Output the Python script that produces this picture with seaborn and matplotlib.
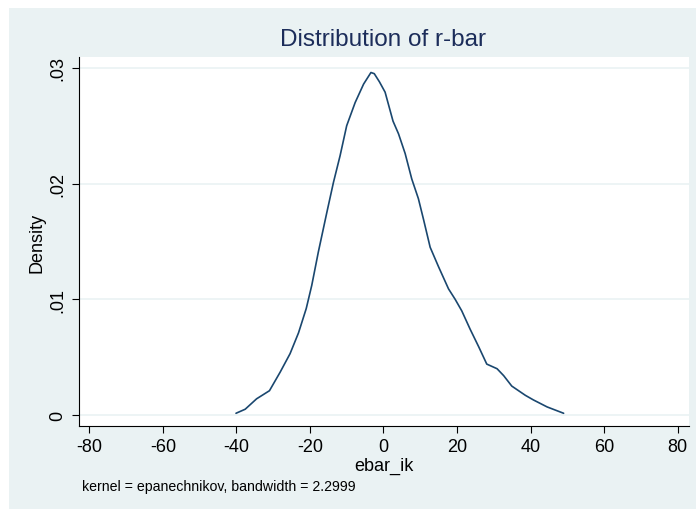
import matplotlib
matplotlib.use("Agg")
import matplotlib.pyplot as plt
import seaborn as sns
import pandas as pd
from matplotlib.patches import Rectangle

ebar_ik = [-40.1, -37.6, -34.5, -31.0, -28.1, -25.4, -23.1, -21.0, -19.5, -17.7,
           -15.4, -13.6, -11.8, -10.0, -7.7, -5.4, -3.4, -2.5, -1.1, 0.45,
           2.6, 4.1, 5.9, 7.7, 9.5, 10.9, 12.7, 15.0, 17.7, 19.5,
           21.3, 23.6, 25.9, 28.1, 30.9, 32.7, 34.9, 38.6, 40.8, 44.5, 49.0]
density = [0.00015, 0.0005, 0.0014, 0.0021, 0.0037, 0.0053, 0.0071, 0.0092, 0.0112, 0.0141,
           0.0175, 0.0201, 0.0224, 0.0250, 0.0270, 0.0286, 0.0296, 0.0295, 0.0288, 0.0279,
           0.0254, 0.0243, 0.0226, 0.0204, 0.0187, 0.0169, 0.0145, 0.0128, 0.0109, 0.0100,
           0.0090, 0.0074, 0.0059, 0.0044, 0.0040, 0.0034, 0.0025, 0.0017, 0.0013, 0.0007, 0.00015]
xticks = [-80, -60, -40, -20, 0, 20, 40, 60, 80]
yticks = [0, 0.01, 0.02, 0.03]
ytick_labels = ["0", ".01", ".02", ".03"]

df = pd.DataFrame({"ebar_ik": ebar_ik, "Density": density})

sns.set_style("white")
plt.rcParams["font.family"] = ["Liberation Sans", "DejaVu Sans"]

W, H = 696, 510
fig = plt.figure(figsize=(W / 100, H / 100), dpi=100, facecolor="white")
bg = "#EAF2F3"
fig.patches.append(Rectangle((9 / W, 0), 1 - 9 / W, 1 - 9 / H, transform=fig.transFigure,
                             facecolor=bg, edgecolor="none", zorder=-10))

left, right, top, bottom = 79, 689, 58, 427
ax = fig.add_axes([left / W, 1 - bottom / H, (right - left) / W, (bottom - top) / H])
ax.set_zorder(5)
ax.set_facecolor("white")

sns.lineplot(data=df, x="ebar_ik", y="Density", sort=False, color="#1A476F", linewidth=1.2, ax=ax)

ax.set_xlim(-82.8, 83.1)
ax.set_ylim(-0.00095, 0.03094)
ax.set_xticks(xticks)
ax.set_xticklabels([str(t) for t in xticks])
ax.set_yticks(yticks)
ax.set_yticklabels(ytick_labels, rotation=90, va="center")
ax.grid(axis="y", color=bg, linewidth=1.2)
ax.grid(axis="x", visible=False)
for s in ["top", "right"]:
    ax.spines[s].set_visible(False)
for s in ["left", "bottom"]:
    ax.spines[s].set_color("#000000")
    ax.spines[s].set_linewidth(0.8)
ax.tick_params(axis="both", which="major", direction="out", length=5, width=0.8,
               color="#000000", labelsize=13, labelcolor="#000000", pad=4, left=True, bottom=True)

ax.set_xlabel("ebar_ik", fontsize=13, color="#000000", labelpad=1)
ax.set_ylabel("Density", fontsize=13, color="#000000", labelpad=3)

fig.text(383 / W, 1 - 40 / H, "Distribution of r-bar", ha="center", va="center",
         fontsize=17.5, color="#1C2D5A")
fig.text(82 / W, 1 - 487 / H, "kernel = epanechnikov, bandwidth = 2.2999", ha="left", va="center",
         fontsize=10.2, color="#000000")

fig.savefig("out.png", dpi=100, facecolor=fig.get_facecolor())
